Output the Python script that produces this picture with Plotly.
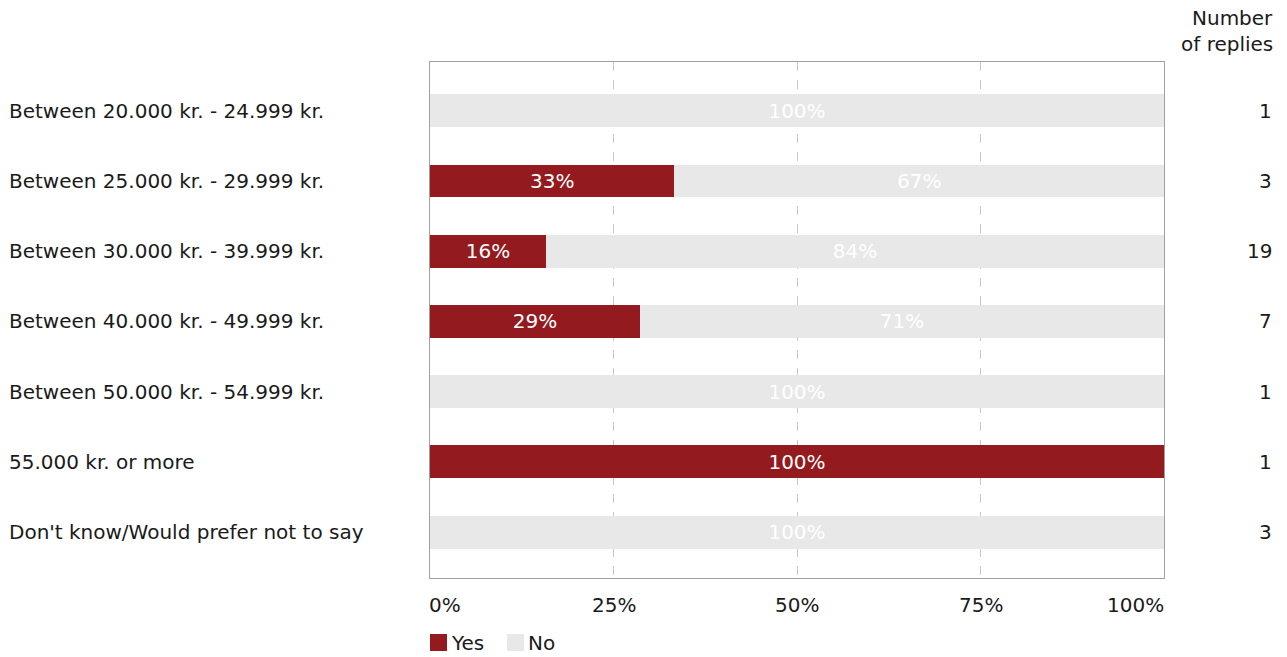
import plotly.graph_objects as go

categories = [
    "Between 20.000 kr. - 24.999 kr.",
    "Between 25.000 kr. - 29.999 kr.",
    "Between 30.000 kr. - 39.999 kr.",
    "Between 40.000 kr. - 49.999 kr.",
    "Between 50.000 kr. - 54.999 kr.",
    "55.000 kr. or more",
    "Don't know/Would prefer not to say",
]
yes_values = [0, 33.3, 15.8, 28.6, 0, 100, 0]
no_values = [100, 66.7, 84.2, 71.4, 100, 0, 100]
replies = [1, 3, 19, 7, 1, 1, 3]
tick_vals = [0, 25, 50, 75, 100]
tick_labels = ["0%", "25%", "50%", "75%", "100%"]
series_names = ["Yes", "No"]

YES_COLOR = "#931a1e"
NO_COLOR = "#e8e8e8"
TEXT_COLOR = "#1a1a1a"
FONT = "DejaVu Sans, Verdana, sans-serif"
FS = 20

PW = 734.0
PH = 516.0

def fmt(v):
    return f"{round(v)}%" if v > 0 else ""

idx = list(range(len(categories)))

fig = go.Figure()
for name, vals, col in [(series_names[0], yes_values, YES_COLOR),
                        (series_names[1], no_values, NO_COLOR)]:
    fig.add_trace(go.Bar(
        y=idx, x=vals, orientation="h", name=name,
        marker=dict(color=col, line=dict(width=0)),
        text=[fmt(v) for v in vals], textposition="inside",
        insidetextanchor="middle", textangle=0,
        textfont=dict(color="white", size=FS, family=FONT),
        width=0.47, hoverinfo="skip", showlegend=False,
    ))

annotations = []
for i, (c, n) in enumerate(zip(categories, replies)):
    annotations.append(dict(
        x=(-430 + 7) / PW, xref="paper", y=i, yref="y",
        text=c, showarrow=False, xanchor="left", yanchor="middle",
        font=dict(size=FS, color=TEXT_COLOR, family=FONT),
    ))
    annotations.append(dict(
        x=1 + 110 / PW, xref="paper", y=i, yref="y",
        text=str(n), showarrow=False, xanchor="right", yanchor="middle",
        font=dict(size=FS, color=TEXT_COLOR, family=FONT),
    ))

for v, t in zip(tick_vals, tick_labels):
    if v == tick_vals[0]:
        anchor, shift = "left", -3
    elif v == tick_vals[-1]:
        anchor, shift = "right", 2
    else:
        anchor, shift = "center", 0
    annotations.append(dict(
        x=v, xref="x", y=-27 / PH, yref="paper", xshift=shift,
        text=t, showarrow=False, xanchor=anchor, yanchor="middle",
        font=dict(size=FS, color=TEXT_COLOR, family=FONT),
    ))

annotations.append(dict(
    x=1 + 111 / PW, xref="paper", y=1 + 44 / PH, yref="paper",
    text="Number", showarrow=False, xanchor="right", yanchor="middle",
    font=dict(size=FS, color=TEXT_COLOR, family=FONT),
))
annotations.append(dict(
    x=1 + 111 / PW, xref="paper", y=1 + 18 / PH, yref="paper",
    text="of replies", showarrow=False, xanchor="right", yanchor="middle",
    font=dict(size=FS, color=TEXT_COLOR, family=FONT),
))

# custom legend
shapes = []
legend_items = [(series_names[0], YES_COLOR, 0), (series_names[1], NO_COLOR, 77)]
for name, col, dx in legend_items:
    shapes.append(dict(
        type="rect", xref="paper", yref="paper",
        x0=dx / PW, x1=(dx + 17) / PW,
        y0=(578 - 651) / PH, y1=(578 - 634) / PH,
        fillcolor=col, line=dict(width=0),
    ))
    annotations.append(dict(
        x=(dx + 19) / PW, xref="paper", y=(578 - 643) / PH, yref="paper",
        text=name, showarrow=False, xanchor="left", yanchor="middle",
        font=dict(size=FS, color=TEXT_COLOR, family=FONT),
    ))

fig.update_layout(
    width=1287, height=657,
    margin=dict(l=430, r=123, t=62, b=79, autoexpand=False),
    barmode="stack",
    plot_bgcolor="white", paper_bgcolor="white",
    font=dict(family=FONT, size=FS, color=TEXT_COLOR),
    showlegend=False,
    annotations=annotations,
    shapes=shapes,
    uniformtext=dict(mode="show", minsize=FS),
)
fig.update_xaxes(
    range=[0, 100], tickvals=[25, 50, 75], showticklabels=False,
    showgrid=True, gridcolor="#c8c8c8", griddash="dash", gridwidth=1,
    zeroline=False, showline=True, linecolor="#a0a0a0", linewidth=1, mirror=True,
    fixedrange=True,
)
fig.update_yaxes(
    range=[6.655, -0.695], showticklabels=False, showgrid=False,
    zeroline=False, showline=True, linecolor="#a0a0a0", linewidth=1, mirror=True,
    fixedrange=True,
)

fig.write_html(
    "out.html",
    config={"displayModeBar": False},
    post_script="document.body.style.margin='0';document.body.style.padding='0';",
)
